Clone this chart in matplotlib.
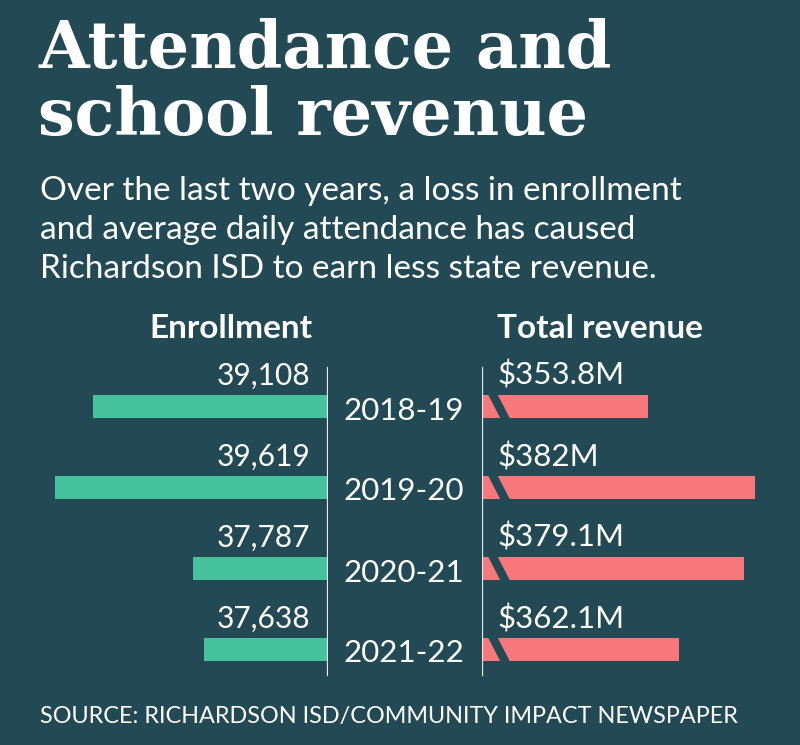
import matplotlib
matplotlib.use("Agg")
import matplotlib.pyplot as plt
from matplotlib.patches import Polygon

# data
years = ["2018-19", "2019-20", "2020-21", "2021-22"]
enrollment = [39108, 39619, 37787, 37638]
revenue = [353.8, 382.0, 379.1, 362.1]
enroll_labels = ["39,108", "39,619", "37,787", "37,638"]
revenue_labels = ["$353.8M", "$382M", "$379.1M", "$362.1M"]

BG = "#234a54"
GREEN = "#46c39c"
RED = "#f7777b"
WHITE = "#ffffff"
SANS = "Lato"

W, H = 800, 745
fig = plt.figure(figsize=(W / 100, H / 100), dpi=100, facecolor=BG)


def fx(x):
    return x / W


def fy(y):
    return 1 - y / H


# title + subtitle
fig.text(fx(38), fy(50), "Attendance and", family="DejaVu Serif", weight="bold",
         fontsize=47, color=WHITE, va="center", ha="left")
fig.text(fx(38), fy(117), "school revenue", family="DejaVu Serif", weight="bold",
         fontsize=47, color=WHITE, va="center", ha="left")
sub = ["Over the last two years, a loss in enrollment",
       "and average daily attendance has caused",
       "Richardson ISD to earn less state revenue."]
for i, line in enumerate(sub):
    fig.text(fx(40), fy(191 + 39 * i), line, family=SANS, fontsize=24,
             color=WHITE, va="center", ha="left")

fig.text(fx(312), fy(328), "Enrollment", family=SANS, weight="bold", fontsize=24,
         color=WHITE, va="center", ha="right")
fig.text(fx(497), fy(328), "Total revenue", family=SANS, weight="bold", fontsize=24,
         color=WHITE, va="center", ha="left")

fig.text(fx(40), fy(716), "SOURCE: RICHARDSON ISD/COMMUNITY IMPACT NEWSPAPER",
         family=SANS, fontsize=16.8, color=WHITE, va="center", ha="left")

# axes geometry (pixels)
top_px, bot_px = 340, 690
row0, step = 406.5, 81.0
ylim = ((bot_px - row0) / step, -(row0 - top_px) / step)
bar_h = 23 / step
line_lo = (bot_px - 675) / (bot_px - top_px)
line_hi = (bot_px - 368) / (bot_px - top_px)
ypos = list(range(len(years)))

# enrollment (left)
e_base = 36000
e_scale = 0.0755  # px per student
axL = fig.add_axes([0, fy(bot_px), fx(328), (bot_px - top_px) / H])
axL.set_xlim(e_base + 328 / e_scale, e_base)
axL.set_ylim(*ylim)
axL.barh(ypos, [v - e_base for v in enrollment], left=e_base, height=bar_h,
         color=GREEN)
axL.axvline(e_base, line_lo, line_hi, color="#e6ecec", lw=1.6)
for i in ypos:
    axL.annotate(enroll_labels[i], (e_base, i), xytext=(-18, 31),
                 textcoords="offset pixels", ha="right", va="center",
                 family=SANS, fontsize=21.5, color=WHITE)
    axL.annotate(years[i], (e_base, i), xytext=(76, -4),
                 textcoords="offset pixels", ha="center", va="center",
                 family=SANS, fontsize=22.5, color=WHITE)
axL.axis("off")

# revenue (right), axis broken near the start
r_base = 310
r_scale = 3.79  # px per $M
axR = fig.add_axes([fx(482), fy(bot_px), 1 - fx(482), (bot_px - top_px) / H])
axR.set_xlim(r_base, r_base + (W - 482) / r_scale)
axR.set_ylim(*ylim)
axR.barh(ypos, [v - r_base for v in revenue], left=r_base, height=bar_h,
         color=RED)
axR.axvline(r_base, line_lo, line_hi, color="#e6ecec", lw=1.6)
k = 1 / r_scale
for i in ypos:
    t, b = i - bar_h / 2 - 0.02, i + bar_h / 2 + 0.02
    gap = Polygon([(r_base + 5.5 * k, t), (r_base + 15 * k, t),
                   (r_base + 28.5 * k, b), (r_base + 19 * k, b)],
                  closed=True, facecolor=BG, edgecolor="none", zorder=3)
    axR.add_patch(gap)
    axR.annotate(revenue_labels[i], (r_base, i), xytext=(15, 31),
                 textcoords="offset pixels", ha="left", va="center",
                 family=SANS, fontsize=22.5, color=WHITE)
axR.axis("off")

fig.savefig("out.png", dpi=100, facecolor=BG)
